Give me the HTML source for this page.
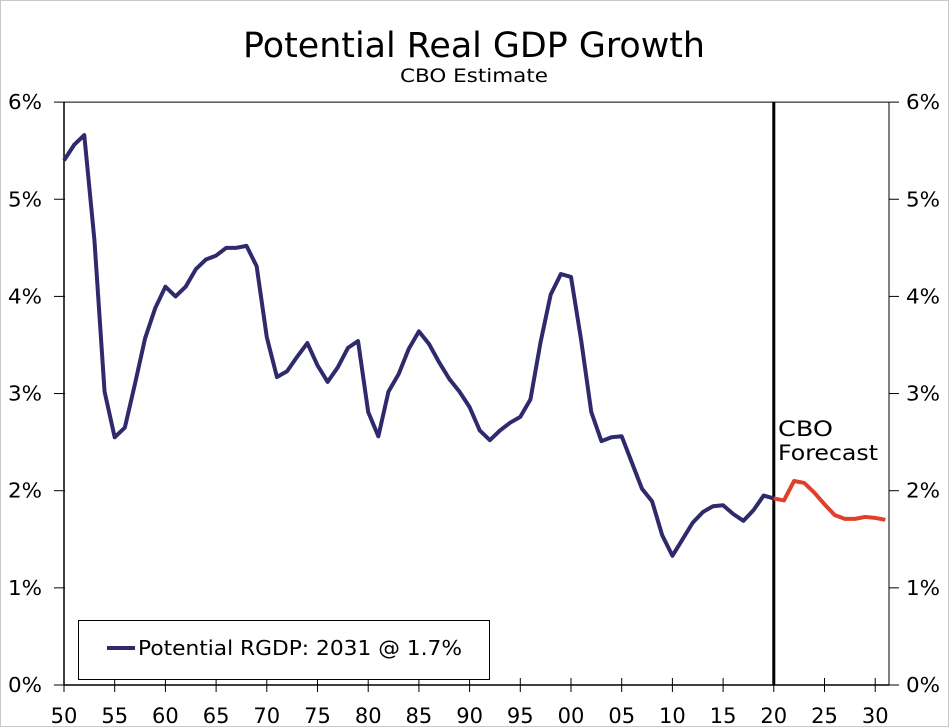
<!DOCTYPE html>
<html><head><meta charset="utf-8"><style>
body{margin:0;background:#fff;}
svg{display:block;font-family:"DejaVu Sans","Liberation Sans",sans-serif;}
</style></head><body>
<svg id="chart" width="949" height="727">
<rect x="0.5" y="0.5" width="948" height="726" fill="#fff" stroke="#c8c8c8"/>
<text x="243" y="57" font-size="35" textLength="462" lengthAdjust="spacingAndGlyphs" fill="#000">Potential Real GDP Growth</text>
<text x="400" y="82" font-size="19" textLength="148" lengthAdjust="spacingAndGlyphs" fill="#000">CBO Estimate</text>
<g id="axes"></g>
<g id="series"></g>
<text x="778" y="436" font-size="21" textLength="55" lengthAdjust="spacingAndGlyphs" fill="#000">CBO</text>
<text x="778" y="460" font-size="21" textLength="100" lengthAdjust="spacingAndGlyphs" fill="#000">Forecast</text>
<g>
<rect x="78.5" y="620.5" width="411" height="59" fill="#fff" stroke="#000" stroke-width="1"/>
<line x1="107" y1="648" x2="135" y2="648" stroke="#2e2a6b" stroke-width="4"/>
<text x="138" y="655" font-size="20" textLength="324" lengthAdjust="spacingAndGlyphs" fill="#000">Potential RGDP: 2031 @ 1.7%</text>
</g>
</svg>
<script>
const years=[1950,1951,1952,1953,1954,1955,1956,1957,1958,1959,1960,1961,1962,1963,1964,1965,1966,1967,1968,1969,1970,1971,1972,1973,1974,1975,1976,1977,1978,1979,1980,1981,1982,1983,1984,1985,1986,1987,1988,1989,1990,1991,1992,1993,1994,1995,1996,1997,1998,1999,2000,2001,2002,2003,2004,2005,2006,2007,2008,2009,2010,2011,2012,2013,2014,2015,2016,2017,2018,2019,2020];
const histValues=[5.40,5.56,5.66,4.58,3.02,2.55,2.65,3.1,3.57,3.88,4.1,4.0,4.1,4.28,4.38,4.42,4.5,4.5,4.52,4.31,3.58,3.17,3.23,3.38,3.52,3.29,3.12,3.27,3.47,3.54,2.81,2.56,3.02,3.2,3.46,3.64,3.51,3.32,3.15,3.02,2.86,2.62,2.52,2.62,2.7,2.76,2.94,3.53,4.02,4.23,4.2,3.55,2.81,2.51,2.55,2.56,2.29,2.02,1.89,1.54,1.33,1.5,1.67,1.78,1.84,1.85,1.76,1.69,1.8,1.95,1.92];
const fcYears=[2020,2021,2022,2023,2024,2025,2026,2027,2028,2029,2030,2031];
const fcValues=[1.92,1.9,2.1,2.08,1.98,1.86,1.75,1.71,1.71,1.73,1.72,1.7];
const yTicks=[0,1,2,3,4,5,6];
const xTickYears=[1950,1955,1960,1965,1970,1975,1980,1985,1990,1995,2000,2005,2010,2015,2020,2025,2030];
const xTickLabels=["50","55","60","65","70","75","80","85","90","95","00","05","10","15","20","25","30"];
const forecastStart=2020;

const NS="http://www.w3.org/2000/svg";
const X0=64,PXY=10.14,Y0=685,PXP=97.15,LEFT=64,RIGHT=889;
const xs=y=>X0+(y-1950)*PXY;
const ys=v=>Y0-v*PXP;
function mk(tag,attrs,parent){const e=document.createElementNS(NS,tag);for(const k in attrs)e.setAttribute(k,attrs[k]);parent.appendChild(e);return e;}
const ax=document.getElementById('axes'),se=document.getElementById('series');
let e;
e=mk('line',{x1:LEFT,y1:ys(6),x2:LEFT,y2:Y0,stroke:'#000','stroke-width':1.5},ax);


e=mk('line',{x1:RIGHT,y1:ys(6),x2:RIGHT,y2:Y0,stroke:'#000','stroke-width':1},ax);


e=mk('line',{x1:LEFT,y1:ys(6),x2:RIGHT,y2:ys(6),stroke:'#000','stroke-width':1},ax);


e=mk('line',{x1:LEFT,y1:Y0,x2:RIGHT,y2:Y0,stroke:'#000','stroke-width':1.5},ax);


yTicks.forEach(t=>{
  const y=ys(t);
  mk('line',{x1:LEFT-10,y1:y,x2:LEFT+1,y2:y,stroke:'#000'},ax);
  mk('line',{x1:RIGHT,y1:y,x2:RIGHT+10,y2:y,stroke:'#000'},ax);
  e=mk('text',{x:8,y:y+7,'font-size':20,textLength:34,lengthAdjust:'spacingAndGlyphs'},ax);e.textContent=t+'%';
  
  
  e=mk('text',{x:906,y:y+7,'font-size':20,textLength:34,lengthAdjust:'spacingAndGlyphs'},ax);e.textContent=t+'%';
  
  
});
xTickYears.forEach((yr,i)=>{
  const x=xs(yr);
  mk('line',{x1:x,y1:Y0-7,x2:x,y2:Y0+7,stroke:'#000'},ax);
  e=mk('text',{x:x,y:723,'font-size':21,'text-anchor':'middle'},ax);e.textContent=xTickLabels[i];
  
  
});
e=mk('line',{x1:xs(forecastStart),y1:ys(6),x2:xs(forecastStart),y2:Y0,stroke:'#000','stroke-width':3},ax);


e=mk('polyline',{points:years.map((y,i)=>xs(y)+','+ys(histValues[i])).join(' '),fill:'none',stroke:'#2e2a6b','stroke-width':4,'stroke-linejoin':'round'},se);


e=mk('polyline',{points:fcYears.map((y,i)=>xs(y)+','+ys(fcValues[i])).join(' '),fill:'none',stroke:'#e0402a','stroke-width':4,'stroke-linejoin':'round'},se);


</script>
</body></html>
